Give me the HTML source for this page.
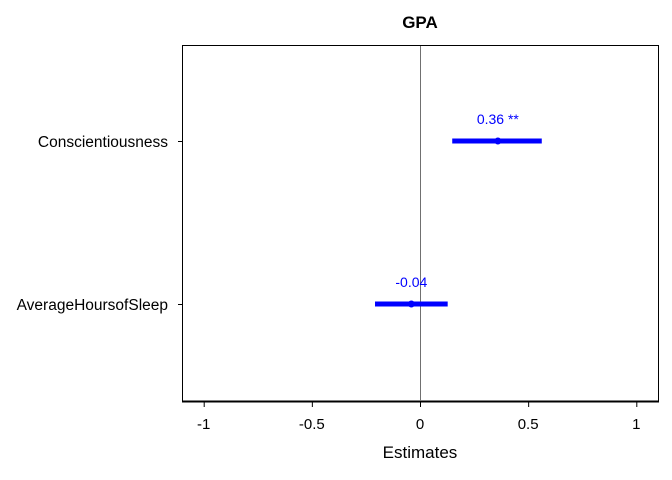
<!DOCTYPE html>
<html><head><meta charset="utf-8"><style>body{margin:0;background:#fff}svg{display:block;font-family:"Liberation Sans",Arial,sans-serif}</style></head>
<body>
<svg id="chart" width="672" height="480">
<text x="420" y="28" text-anchor="middle" font-size="17" font-weight="bold">GPA</text>
<rect x="182.5" y="45.5" width="476" height="356" fill="none" stroke="#000" stroke-width="1"/>
<line x1="182" y1="401.5" x2="659" y2="401.5" stroke="#000" stroke-width="2"/>
<g id="xaxis"></g><g id="yaxis"></g><g id="marks"></g>
<text x="420" y="458" text-anchor="middle" font-size="17">Estimates</text>
</svg>
<script>
const terms = ["Conscientiousness", "AverageHoursofSleep"];
const estimates = [0.36, -0.04];
const ciLow = [0.149, -0.208];
const ciHigh = [0.563, 0.128];
const valueLabels = ["0.36 **", "-0.04"];
const xTicks = [-1, -0.5, 0, 0.5, 1];
const xTickLabels = ["-1", "-0.5", "0", "0.5", "1"];
const NS = "http://www.w3.org/2000/svg";
const xs = v => 420 + v * 216.3;
const ys = i => 141 + i * 163;
function mk(tag, attrs, parent, text){const e=document.createElementNS(NS,tag);for(const k in attrs)e.setAttribute(k,attrs[k]);if(text!=null)e.textContent=text;parent.appendChild(e);return e;}
const xa=document.getElementById('xaxis'), ya=document.getElementById('yaxis'), mg=document.getElementById('marks');
xTicks.forEach((t,i)=>{
  const l=mk('line',{x1:xs(t)+0.5,x2:xs(t)+0.5,y1:402,y2:407,stroke:'#000','stroke-width':1},xa);
  
  
  const tx=mk('text',{x:xs(t),y:429,'text-anchor':'middle','font-size':15},xa,xTickLabels[i]);
  
  
});
const zl=mk('line',{x1:xs(0)+0.5,x2:xs(0)+0.5,y1:46,y2:401,stroke:'#707070','stroke-width':1},mg);


terms.forEach((t,i)=>{
  const y=ys(i);
  const tk=mk('line',{x1:178,x2:182,y1:y+0.5,y2:y+0.5,stroke:'#000'},ya);
  
  
  const lb=mk('text',{x:168,y:y+6,'text-anchor':'end','font-size':15.5},ya,t);
  
  
  const ci=mk('line',{x1:xs(ciLow[i]),x2:xs(ciHigh[i]),y1:y,y2:y,stroke:'#0000ff','stroke-width':5},mg);
  
  
  const pt=mk('circle',{cx:xs(estimates[i]),cy:y,r:3.5,fill:'#0000ff'},mg);
  
  
  const vl=mk('text',{x:xs(estimates[i]),y:y-17,'text-anchor':'middle','font-size':14,fill:'#0000ff'},mg,valueLabels[i]);
  
  
});
</script>
</body></html>
